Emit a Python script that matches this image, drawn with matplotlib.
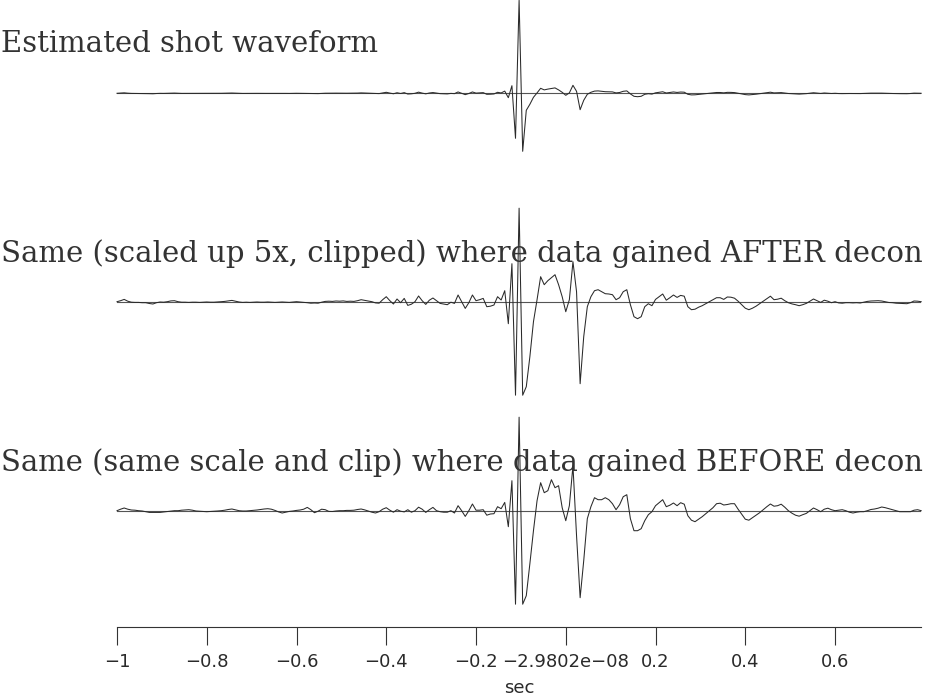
import numpy as np
import matplotlib
matplotlib.use("Agg")
import matplotlib.pyplot as plt
from matplotlib.ticker import FixedLocator, FixedFormatter

# ---------------- data ----------------
t_start = -1.0
t_step = 0.008

wavelet_after = [
    0, 1, 2.3, 0.5, -0.5, -0.7, -0.7, -1, -1, -1.8,
    -2.3, -1, -0.3, -0.5, 0, 0.8, 1, 0, -0.5, -0.5,
    -0.7, -0.5, -0.5, -0.7, -0.5, -0.3, -0.5, -0.5, -0.3, 0,
    0.3, 0.8, 1.3, 0.5, -0.3, -0.7, -0.5, -0.7, -0.5, -0.3,
    -0.5, -0.5, -0.3, -0.5, -0.7, -0.5, -0.3, -0.5, -0.7, -0.3,
    0, -0.3, -0.7, -1, -1.5, -1.3, -1.5, -0.5, 0.3, 0.5,
    0.3, 0.7, 0.5, 0.8, 0.3, 0.5, 0.3, 1, 2, 1.3,
    0.5, 0, -1.2, -1.5, 2, 5, 1, -2.3, 2.7, -1,
    3.3, -3.7, -2.5, 0, 5.7, 1, -2.7, 1.5, 3.7, 1,
    -1.7, -2.3, -3, -0.5, -1.7, 6.7, 0, -6.7, -1, 6.7,
    1, 2, 3.3, -5, -4.5, -3.3, 5, 1.7, 11, -22,
    38, -225, 465, -290, -85, -55, -20, 2, 25, 17,
    21, 24, 27, 17, 5, -10, 2, 40, 10, -82,
    -35, -5, 5, 11, 12, 10, 8, 7.7, 7, 2,
    4, 10, 12, -3, -15, -17, -15, -5, -2, -4,
    2.3, 5, 7.7, 1.5, 4, 6.7, 4.3, 6.3, 5.5, -5,
    -8, -7.5, -5.5, -4, -2, 0, 2, 4, 4, 2.3,
    4.7, 4.5, 3.5, 0.5, -3, -6.5, -8, -6.5, -4.5, -2,
    0.5, 3, 5.5, 2, 2.5, 3.5, 1, -1, -2.2, -3,
    -4, -3, -1.7, 0.5, 2.7, 1, -0.7, 1.5, 0.5, -1,
    0, -1.2, -1.5, -1, -1, -1.2, -1, -1.3, -0.5, 0.3,
    0.7, 0.8, 1, 0.7, 0, -0.8, -1, -1.5, -1.7, -1.8,
    -2, -1, 0.7, 0.5, 0,
]

wavelet_before = [
    0, 1.5, 2.7, 1.5, 0.7, 0.5, 0, -0.3, -1, -1.7,
    -1.7, -1.7, -1.7, -1.3, -1, -0.5, 0, 0, 0.5, 0.8,
    1, 0.5, -0.3, -0.5, -0.8, -1, -0.8, -0.5, -0.3, 0,
    0.5, 1.2, 1.7, 0.8, 0, -0.3, -0.3, 0, 0.3, 0.7,
    1.2, 1.7, 2, 1.5, 0.3, -1.2, -2.3, -1.5, -0.7, -0.3,
    0.3, 0.7, 1.5, 3.3, 1, -2, -0.5, 1.5, 1, -0.7,
    -0.8, -0.3, 0, 0, 0.3, 0.3, 0.5, 1.2, 1.7, 0.8,
    -0.3, -1.5, -2.3, -1, 1.5, 3, 0.5, -1.5, 1, -0.5,
    -1.2, 1, -1.5, 0, 3.5, 1.5, -1.7, 1, 3.3, 0,
    -1, -1.5, -1.5, 0, -2.3, 5, 0, -5.7, 0, 6.7,
    0.5, 0.5, 1, -4.5, -3.3, -3, 4, 2, 8.3, -16,
    30, -225, 460, -280, -85, -53, -20, 10, 28, 18,
    20, 31, 23, 25, 3, -10, 5, 45, -25, -87,
    -50, -8, 4, 13, 11, 11, 13, 11, 7, 1,
    6, 14, 16, -8, -20, -20, -18, -10, -4, -1,
    5, 8, 11, 4, 5.5, 7.7, 5, 8, 6.5, -5,
    -9.5, -11, -8.5, -6, -3, 0, 3, 7, 7.5, 5.7,
    6.2, 7, 7, 1.5, -3.5, -8.5, -9.5, -7, -4.5, -2,
    1, 4, 6.7, 4.5, 5, 6.5, 3.5, 0, -2.5, -4.5,
    -5.5, -4, -2.7, 0, 2.7, 1, -1, 1.5, 2.5, 1,
    0, 0.5, 1, 0, -1.5, -2.3, -1.5, -1, -1, 0,
    1.2, 1.7, 2.5, 3.7, 3, 2, 1, 0, -1, -1,
    -1, -1, 0.5, 1, 0,
]

titles = [
    "Estimated shot waveform",
    "Same (scaled up 5x, clipped) where data gained AFTER decon",
    "Same (same scale and clip) where data gained BEFORE decon",
]
tick_values = [-1, -0.8, -0.6, -0.4, -0.2, 0, 0.2, 0.4, 0.6]
tick_labels = ["\u22121", "\u22120.8", "\u22120.6", "\u22120.4", "\u22120.2",
               "\u22122.9802e\u221208", "0.2", "0.4", "0.6"]
x_label = "sec"

# ---------------- layout ----------------
W, H = 926, 697
fig = plt.figure(figsize=(W / 100, H / 100), dpi=100)
fig.patch.set_facecolor("white")

t = t_start + t_step * np.arange(len(wavelet_after))
x_left_px, x_right_px = 117, 921.2

clip_level = 93.5
scale_up = 5
half_px = 93.5

panels = [
    (np.asarray(wavelet_after, float), 93.3, clip_level * scale_up, False),
    (np.asarray(wavelet_after, float), 301.7, clip_level, True),
    (np.asarray(wavelet_before, float), 510.7, clip_level, True),
]
title_baselines = [52, 262, 471]
title_widths = [376, 920, 920]

line_color = "#2a2a2a"
for (vals, yc, lim, do_clip) in panels:
    ax = fig.add_axes([x_left_px / W, 1 - (yc + half_px) / H,
                       (x_right_px - x_left_px) / W, 2 * half_px / H])
    ax.set_xlim(t[0], t[-1])
    ax.set_ylim(-lim, lim)
    ax.axis("off")
    y = np.clip(vals, -lim, lim) if do_clip else vals
    ax.axhline(0, color="#555555", lw=0.8, zorder=1)
    ax.plot(t, y, color=line_color, lw=0.75, clip_on=False, zorder=2)

title_texts = []
for s, yb in zip(titles, title_baselines):
    tx = fig.text(1.0 / W, 1 - yb / H, s, ha="left", va="baseline",
                  fontsize=20, family="DejaVu Serif", color="#333333")
    title_texts.append(tx)

# bottom time axis
axis_y_px = 627
axb = fig.add_axes([x_left_px / W, 1 - axis_y_px / H,
                    (x_right_px - x_left_px) / W, 0.5 / H])
axb.set_xlim(t[0], t[-1])
axb.set_yticks([])
for side in ("left", "right", "bottom"):
    axb.spines[side].set_visible(False)
axb.spines["top"].set_linewidth(0.8)
axb.spines["top"].set_color("#333333")
axb.patch.set_alpha(0)
axb.xaxis.set_major_locator(FixedLocator(tick_values))
axb.xaxis.set_major_formatter(FixedFormatter(tick_labels))
axb.tick_params(axis="x", direction="out", length=13, width=0.8,
                color="#333333", pad=6, labelsize=13, labelcolor="#2a2a2a")
axb.set_xlabel(x_label, fontsize=13, color="#2a2a2a", labelpad=5.5)

# fit title widths
fig.canvas.draw()
r = fig.canvas.get_renderer()
for tx, target in zip(title_texts, title_widths):
    w = tx.get_window_extent(r).width
    tx.set_fontsize(tx.get_fontsize() * target / w)

fig.savefig("out.png", dpi=100, facecolor="white")
